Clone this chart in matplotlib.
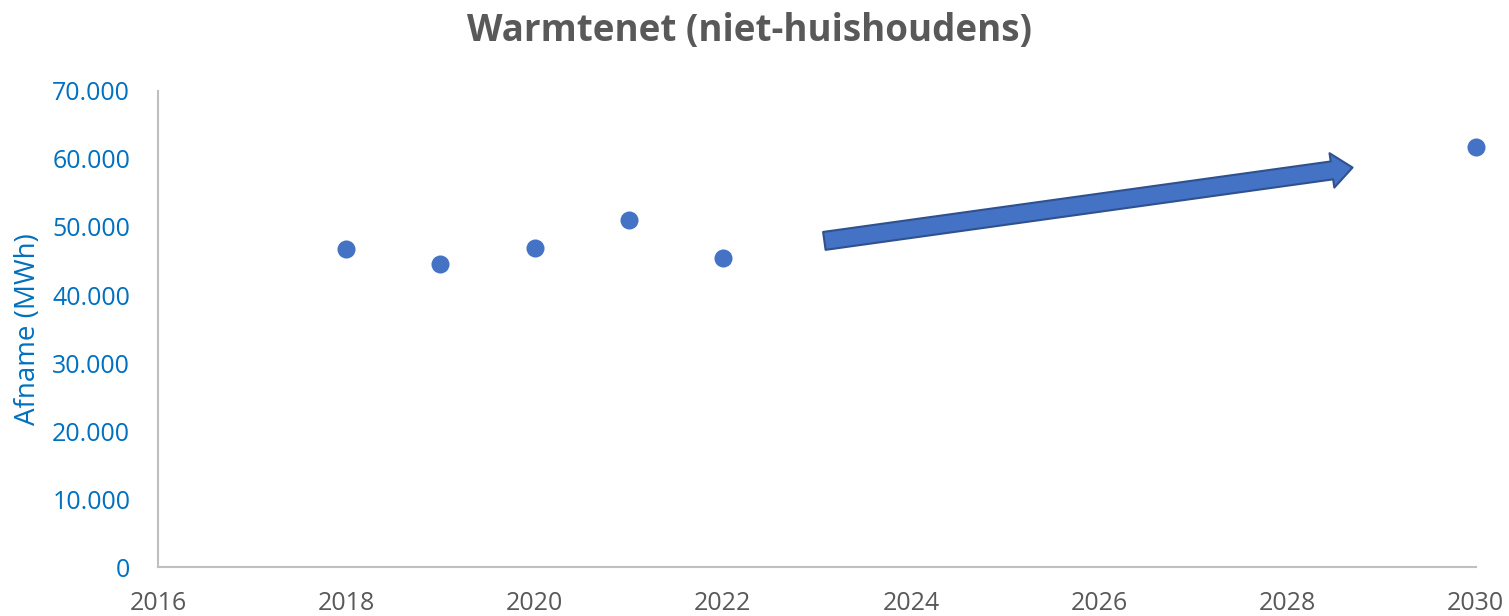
import matplotlib.pyplot as plt
from matplotlib.patches import FancyArrowPatch
from matplotlib.ticker import FuncFormatter, MultipleLocator

years = [2018, 2019, 2020, 2021, 2022, 2030]
afname = [46700, 44500, 46900, 51000, 45500, 61700]

# trend arrow (start -> end, in data units)
arrow_start = (2023.05, 47900)
arrow_end = (2028.72, 58800)

plt.rcParams['font.family'] = ['Open Sans', 'DejaVu Sans']

blue = '#0070C0'
grey = '#595959'

fig = plt.figure(figsize=(15.09, 6.16), dpi=100)
ax = fig.add_axes([0.1047, 0.0795, 0.8733, 0.7728])

ax.plot(years, afname, 'o', color='#4472C4', markersize=13, markeredgewidth=0,
        clip_on=False, zorder=3)

arrow = FancyArrowPatch(arrow_start, arrow_end,
                        arrowstyle='simple,head_width=25,head_length=15,tail_width=13',
                        mutation_scale=1, facecolor='#4472C4', edgecolor='#2F528F',
                        linewidth=1.5)
ax.add_patch(arrow)

ax.set_xlim(2016, 2030)
ax.set_ylim(0, 70000)
ax.xaxis.set_major_locator(MultipleLocator(2))
ax.yaxis.set_major_locator(MultipleLocator(10000))
ax.yaxis.set_major_formatter(FuncFormatter(lambda v, p: f'{v:,.0f}'.replace(',', '.')))

for s in ['top', 'right']:
    ax.spines[s].set_visible(False)
for s in ['left', 'bottom']:
    ax.spines[s].set_color('#BFBFBF')
    ax.spines[s].set_linewidth(1.5)

ax.tick_params(axis='both', length=0, labelsize=18)
ax.tick_params(axis='y', colors=blue, pad=20)
ax.tick_params(axis='x', colors=grey, pad=17)

ax.set_ylabel('Afname (MWh)', color=blue, fontsize=20, labelpad=7)
fig.suptitle('Warmtenet (niet-huishoudens)', color=grey, fontsize=26.5,
             fontweight='bold', y=0.98, x=0.497)

fig.savefig('out.png', dpi=100)
